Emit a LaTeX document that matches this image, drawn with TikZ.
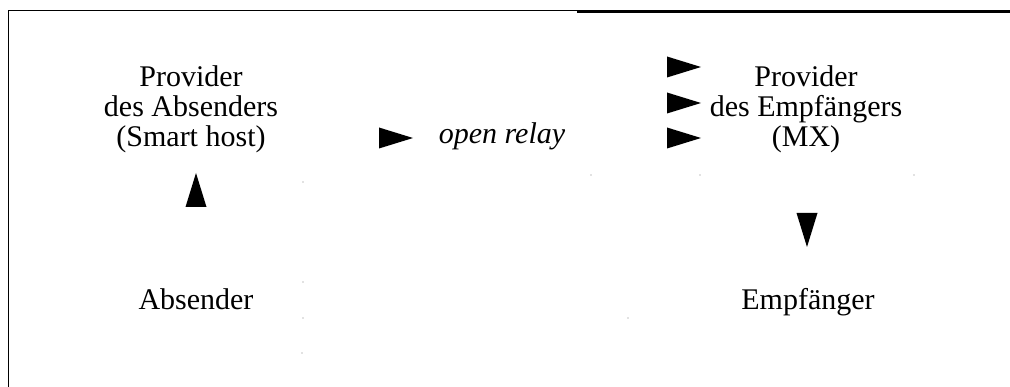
\documentclass[tikz,border=0pt]{standalone}
\usepackage{fontspec}
\setmainfont{Liberation Serif}
\begin{document}
\begin{tikzpicture}[x=1pt,y=-1pt,
  txt/.style={font=\fontsize{30}{29}\selectfont, inner sep=0pt, anchor=base},
  tri/.pic={\fill[black] (0,-10.5) -- (34,0) -- (0,10.5) -- cycle;},
  speck/.style={fill=black!50, draw=none}]
\useasboundingbox (0,0) rectangle (1010,387);

% frame: left edge and top edge (thicker on the right part)
\draw[line width=1.6pt] (8.5,387) -- (8.5,10.5) -- (577,10.5);
\draw[line width=3pt] (577,11.5) -- (1010,11.5);

% sender side
\node[txt] (src) at (191,87)
  {\begin{tabular}[t]{@{}c@{}}Provider\\des Absenders\\(Smart host)\end{tabular}};
\node[txt] (sender) at (196,310) {Absender};
\pic at (196,207) [rotate=90] {tri};

% relay
\pic at (379,138) {tri};
\node[txt] (relay) at (502,144) {\itshape open relay};

% recipient side
\pic at (667,67) {tri};
\pic at (667,103) {tri};
\pic at (667,138) {tri};
\node[txt] (dst) at (806,87)
  {\begin{tabular}[t]{@{}c@{}}Provider\\des Empfängers\\(MX)\end{tabular}};
\pic at (807,213) [rotate=-90] {tri};
\node[txt] (rcpt) at (808,310) {Empfänger};

% faint grid specks
\foreach \p in {(303,182),(303,282),(303,318),(302,353),(591,175),(700,175),(914,175),(628,318)}
  \fill[speck] \p circle (0.7);
\end{tikzpicture}
\end{document}
